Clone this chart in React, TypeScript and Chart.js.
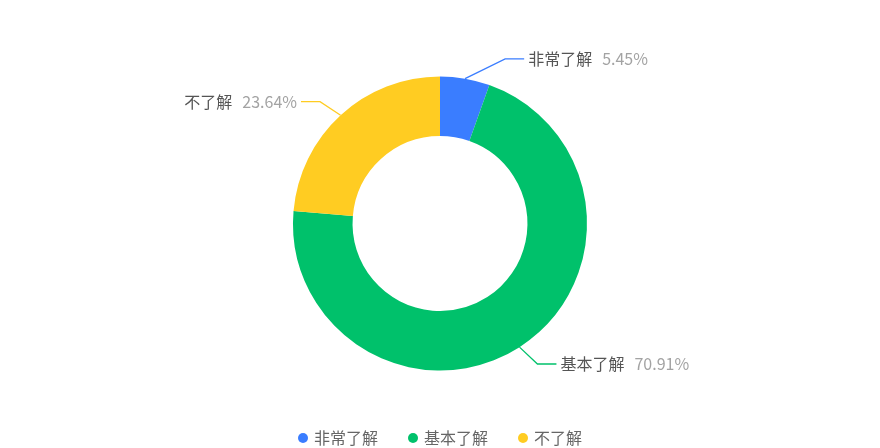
import React, { useEffect, useRef } from "react";
import { Chart, registerables } from "chart.js";

Chart.register(...registerables);

const categories = ["非常了解", "基本了解", "不了解"];
const percentValues = [5.45, 70.91, 23.64];
const colors = ["#3A7DFF", "#00C16B", "#FFCC22"];

const FONT = '"Noto Sans CJK SC", "Noto Sans", sans-serif';

const labelPlugin = {
  id: "outerLabels",
  afterDatasetsDraw(chart: any) {
    const ctx = chart.ctx;
    const meta = chart.getDatasetMeta(0);
    const values = chart.data.datasets[0].data as number[];
    const deg = Math.PI / 180;
    const minAng = 21.6 * deg;
    ctx.save();
    meta.data.forEach((arc: any, i: number) => {
      const { x: cx, y: cy, startAngle, endAngle, outerRadius } = arc.getProps(
        ["x", "y", "startAngle", "endAngle", "outerRadius"],
        true
      );
      const mid = (startAngle + endAngle) / 2;
      let phi = mid + Math.PI / 2; // angle from top, clockwise
      phi = ((phi % (2 * Math.PI)) + 2 * Math.PI) % (2 * Math.PI);
      const sx = cx + outerRadius * Math.sin(phi);
      const sy = cy - outerRadius * Math.cos(phi);
      const right = Math.sin(phi) >= 0;
      const top = Math.cos(phi) >= 0;
      // distance from vertical axis
      const d = top ? (right ? phi : 2 * Math.PI - phi) : Math.abs(phi - Math.PI);
      const clamped = d + 2 * deg < minAng;
      const d2 = Math.max(d + 2 * deg, minAng);
      let p2: number;
      if (top) p2 = right ? d2 : 2 * Math.PI - d2;
      else p2 = right ? Math.PI - d2 : Math.PI + d2;
      const er = outerRadius + (clamped ? 30 : 24);
      const ex = cx + er * Math.sin(p2);
      const ey = cy - er * Math.cos(p2);
      const hx = ex + (right ? 19 : -19);

      ctx.strokeStyle = colors[i];
      ctx.lineWidth = 1.3;
      ctx.beginPath();
      ctx.moveTo(sx, sy);
      ctx.lineTo(ex, ey);
      ctx.lineTo(hx, ey);
      ctx.stroke();

      const name = chart.data.labels[i];
      const pct = values[i].toFixed(2) + "%";
      ctx.font = `16px ${FONT}`;
      ctx.textBaseline = "middle";
      const nameW = ctx.measureText(name).width;
      const pctW = ctx.measureText(pct).width;
      const gap = 10;
      const tx = right ? hx + 4 : hx - 4 - nameW - gap - pctW;
      ctx.textAlign = "left";
      ctx.fillStyle = "#555555";
      ctx.fillText(name, tx, ey);
      ctx.fillStyle = "#a3a3a3";
      ctx.fillText(pct, tx + nameW + gap, ey);
    });
    ctx.restore();
  },
};

const legendPlugin = {
  id: "customLegend",
  afterDraw(chart: any) {
    const ctx = chart.ctx;
    const labels = chart.data.labels as string[];
    ctx.save();
    ctx.font = `16px ${FONT}`;
    ctx.textBaseline = "middle";
    const r = 5;
    const textGap = 6;
    const itemGap = 30;
    const widths = labels.map((l) => ctx.measureText(l).width);
    const total =
      widths.reduce((a, w) => a + 2 * r + textGap + w, 0) + itemGap * (labels.length - 1);
    let x = chart.width / 2 - total / 2;
    const y = chart.height - 10;
    labels.forEach((l, i) => {
      ctx.fillStyle = colors[i];
      ctx.beginPath();
      ctx.arc(x + r, y, r, 0, Math.PI * 2);
      ctx.fill();
      ctx.fillStyle = "#666666";
      ctx.textAlign = "left";
      ctx.fillText(l, x + 2 * r + textGap, y);
      x += 2 * r + textGap + widths[i] + itemGap;
    });
    ctx.restore();
  },
};

export default function App() {
  const ref = useRef<HTMLCanvasElement>(null);
  useEffect(() => {
    if (!ref.current) return;
    const chart = new Chart(ref.current, {
      type: "doughnut",
      data: {
        labels: categories,
        datasets: [
          {
            data: percentValues,
            backgroundColor: colors,
            borderWidth: 0,
            hoverOffset: 0,
          },
        ],
      },
      options: {
        animation: false,
        responsive: true,
        maintainAspectRatio: false,
        cutout: "59.5%",
        layout: { padding: { top: 76.5, bottom: 77.5, left: 0, right: 0 } },
        plugins: {
          legend: { display: false },
          tooltip: { enabled: false },
        },
      },
      plugins: [labelPlugin, legendPlugin],
    });
    return () => chart.destroy();
  }, []);
  return (
    <div style={{ position: "absolute", left: 0, top: 0, width: 880, height: 448, background: "#fff" }}>
      <canvas ref={ref} />
    </div>
  );
}
